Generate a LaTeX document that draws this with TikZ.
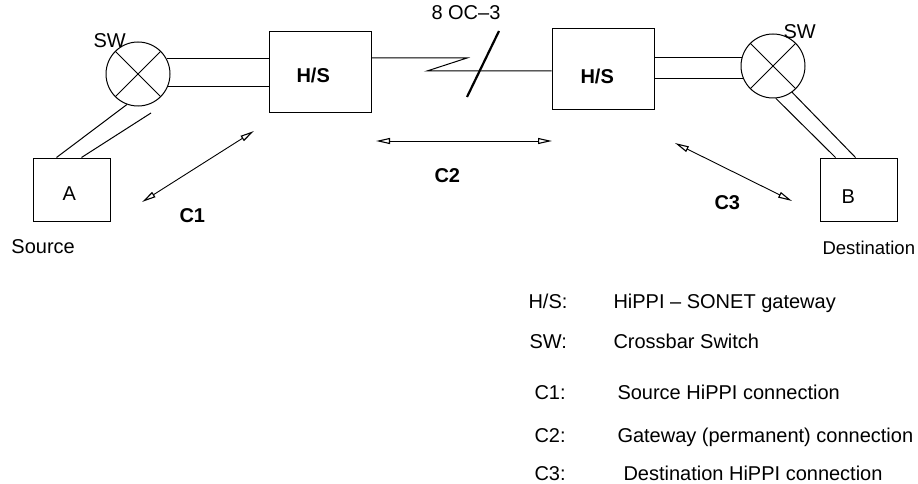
\documentclass[tikz,border=0pt]{standalone}
\usepackage{fontspec}
\setmainfont{Liberation Sans}
\usetikzlibrary{arrows.meta,calc}
\begin{document}
\begin{tikzpicture}[x=1pt,y=-1pt,line width=1pt,
  boxnode/.style={draw,inner sep=0pt,minimum width=102pt,minimum height=81pt},
  endnode/.style={draw,inner sep=0pt,minimum width=77pt,minimum height=63pt},
  swnode/.style={draw,circle,inner sep=0pt,minimum size=64pt},
  txt/.style={inner sep=0pt,anchor=base west,font=\fontsize{20}{24}\selectfont},
  btxt/.style={txt,font=\fontsize{20}{24}\selectfont\bfseries},
  conn/.style={{Triangle[open,length=14pt,width=6pt,line width=1.1pt]}-{Triangle[open,length=14pt,width=6pt,line width=1.1pt]},line width=0.9pt}]
\useasboundingbox (0,0) rectangle (918,484);
% nodes
\node[swnode] (swL) at (138,74) {};
\node[swnode] (swR) at (773,66) {};
\node[boxnode] (hsL) at (320,72.5) {};
\node[boxnode] (hsR) at (603,69.5) {};
\node[endnode] (A) at (71.5,189.5) {};
\node[endnode] (B) at (858.5,189.5) {};
% crosses
\draw (swL.135) -- (swL.-45) (swL.45) -- (swL.225);
\draw (swR.135) -- (swR.-45) (swR.45) -- (swR.225);
% labels
\node[txt] (lswL) at (93,48) {SW};
\node[txt] (lswR) at (783,39) {SW};
\node[txt] (loc) at (431,20) {8 OC–3};
\node[btxt] (lhsL) at (296,83) {H/S};
\node[btxt] (lhsR) at (580,84) {H/S};
\node[txt] (lA) at (62,200) {A};
\node[txt] (lB) at (841,203) {B};
\node[btxt] (lc1) at (179,222) {C1};
\node[btxt] (lc2) at (434,182) {C2};
\node[btxt] (lc3) at (714,209) {C3};
\node[txt] (lsrc) at (11,253) {Source};
\node[txt,font=\fontsize{18.5}{22}\selectfont] (ldst) at (822,254) {Destination};
% switch to gateway links
\draw (swL.28) -- (hsL.west |- swL.28);
\draw (swL.-22) -- (hsL.west |- swL.-22);
\draw (hsR.east |- swR.165.5) -- (swR.165.5);
\draw (hsR.east |- swR.202) -- (swR.202);
% switch to hosts
\coordinate (swLb) at ($(swL.center)+(13,39)$);
\draw (swL.250.5) -- ($(A.north west)+(24,0)$);
\draw (swLb) -- ($(A.north west)+(49,0)$);
\draw (swR.275.5) -- ($(B.north west)+(16,0)$);
\draw (swR.306) -- ($(B.north west)+(36,0)$);
% SONET link
\coordinate (z1) at (467,58);
\coordinate (z2) at (427,71);
\draw (hsL.east |- z1) -- (z1) -- (z2) -- (hsR.west |- z2);
\coordinate (s1) at (499,31);
\coordinate (s2) at (467,97);
\draw[line width=2.2pt] (s1) -- (s2);
% connection arrows
\coordinate (c1a) at (142,202);
\coordinate (c1b) at (254,131);
\coordinate (c2a) at (376,141);
\coordinate (c2b) at (552,141);
\coordinate (c3a) at (675,143);
\coordinate (c3b) at (792,201);
\draw[conn] (c1a) -- (c1b);
\draw[conn] (c2a) -- (c2b);
\draw[conn] (c3a) -- (c3b);
% legend
\node[txt] (k1) at (528,308) {H/S:};
\node[txt] (v1) at (613,308) {HiPPI – SONET gateway};
\node[txt] (k2) at (529,348) {SW:};
\node[txt] (v2) at (613,348) {Crossbar Switch};
\node[txt] (k3) at (534,399) {C1:};
\node[txt] (v3) at (617,399) {Source HiPPI connection};
\node[txt] (k4) at (534,442) {C2:};
\node[txt] (v4) at (617,442) {Gateway (permanent) connection};
\node[txt] (k5) at (534,480) {C3:};
\node[txt] (v5) at (623,480) {Destination HiPPI connection};
\end{tikzpicture}
\end{document}
